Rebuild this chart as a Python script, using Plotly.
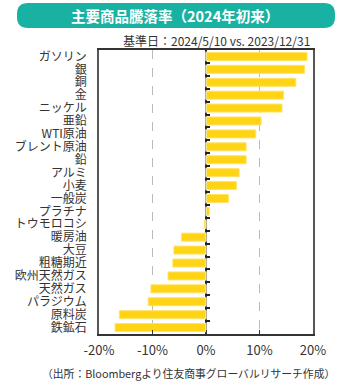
import plotly.graph_objects as go

categories = ["ガソリン", "銀", "銅", "金", "ニッケル", "亜鉛", "WTI原油", "ブレント原油", "鉛",
              "アルミ", "小麦", "一般炭", "プラチナ", "トウモロコシ", "暖房油", "大豆", "粗糖期近",
              "欧州天然ガス", "天然ガス", "パラジウム", "原料炭", "鉄鉱石"]
values = [18.9, 18.4, 16.8, 14.5, 14.2, 10.3, 9.3, 7.5, 7.5,
          6.2, 5.7, 4.2, 0.6, -0.3, -4.6, -6.0, -6.2,
          -7.1, -10.3, -10.8, -16.2, -17.0]
x_ticks = [-20, -10, 0, 10, 20]
x_tick_labels = ["-20%", "-10%", "0%", "10%", "20%"]

FONT = "Noto Sans CJK JP"

fig = go.Figure()
fig.add_trace(go.Bar(
    y=categories, x=values, orientation="h",
    marker=dict(color="#FFD414", line=dict(color="#FFE36A", width=1)),
    width=0.62, hoverinfo="skip",
))
# invisible trace to drive category-boundary ticks on the zero line
fig.add_trace(go.Bar(
    y=categories, x=[0] * len(categories), orientation="h",
    yaxis="y2", marker=dict(color="rgba(0,0,0,0)"), hoverinfo="skip", showlegend=False,
))

fig.update_layout(
    width=345, height=387,
    margin=dict(l=99, r=32, t=50, b=53),
    paper_bgcolor="white", plot_bgcolor="white",
    showlegend=False,
    font=dict(family=FONT, color="#333333"),
    xaxis=dict(
        range=[-20, 20], tickvals=x_ticks, ticktext=x_tick_labels,
        showgrid=True, gridcolor="#BBBBBB", griddash="dash", gridwidth=1,
        zeroline=True, zerolinecolor="#222222", zerolinewidth=1.5,
        showline=True, linecolor="#333333", linewidth=1.5, mirror=True,
        ticks="inside", ticklen=4, tickcolor="#333333",
        tickfont=dict(size=13, family=FONT, color="#333333"),
        ticklabelstandoff=4,
        fixedrange=True,
    ),
    yaxis=dict(
        categoryorder="array", categoryarray=categories[::-1],
        tickmode="array", tickvals=categories, ticktext=categories,
        showline=True, linecolor="#555555", linewidth=1.5, mirror=True,
        ticks="", tickfont=dict(size=12, family=FONT, color="#333333"),
        ticklabelstandoff=8, showgrid=False,
    ),
    yaxis2=dict(
        overlaying="y", anchor="free", position=0.5, side="left",
        categoryorder="array", categoryarray=categories[::-1],
        tickmode="array", tickvals=categories,
        showticklabels=False, ticks="inside", ticklen=3, tickwidth=1.5,
        tickcolor="#222222", tickson="boundaries", showline=False, showgrid=False,
    ),
)

# title banner with rounded corners (pixel -> paper conversion)
PL, PR, PT, PB = 99, 313, 50, 334
def px(x):
    return (x - PL) / (PR - PL)
def py(y):
    return (PB - y) / (PB - PT)
x0, x1, y0, y1, r = 17, 335, 3, 28, 11
path = (f"M {px(x0 + r)},{py(y0)} L {px(x1 - r)},{py(y0)} "
        f"Q {px(x1)},{py(y0)} {px(x1)},{py(y0 + r)} L {px(x1)},{py(y1 - r)} "
        f"Q {px(x1)},{py(y1)} {px(x1 - r)},{py(y1)} L {px(x0 + r)},{py(y1)} "
        f"Q {px(x0)},{py(y1)} {px(x0)},{py(y1 - r)} L {px(x0)},{py(y0 + r)} "
        f"Q {px(x0)},{py(y0)} {px(x0 + r)},{py(y0)} Z")
fig.add_shape(type="path", xref="paper", yref="paper", path=path,
              fillcolor="#19B2A2", line=dict(width=0), layer="below")
fig.add_annotation(text="<b>主要商品騰落率（2024年初来）</b>", xref="paper", yref="paper",
                   x=px(175), y=py(15.5), showarrow=False, xanchor="center", yanchor="middle",
                   font=dict(size=14.5, color="white", family=FONT))
fig.add_annotation(text="基準日：2024/5/10 vs. 2023/12/31", xref="paper", yref="paper",
                   x=px(312), y=py(40), showarrow=False, xanchor="right", yanchor="middle",
                   font=dict(size=12, color="#333333", family=FONT))
fig.add_annotation(text="（出所：Bloombergより住友商事グローバルリサーチ作成）", xref="paper", yref="paper",
                   x=px(188), y=py(373), showarrow=False, xanchor="center", yanchor="middle",
                   font=dict(size=10.8, color="#333333", family=FONT))

fig.write_html("out.html")
